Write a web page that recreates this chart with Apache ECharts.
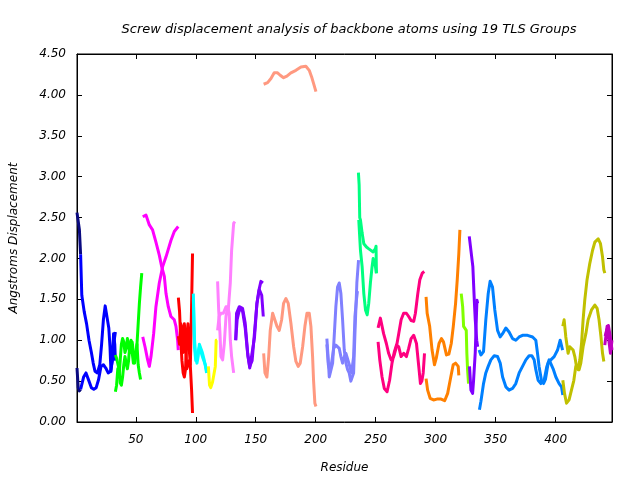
<!DOCTYPE html>
<html><head><meta charset="utf-8">
<script src="https://cdn.jsdelivr.net/npm/echarts@6/dist/echarts.min.js"></script>
<style>html,body{margin:0;padding:0;background:#fff}#c{width:640px;height:480px}</style>
</head><body><div id="c"></div>
<script>
const titleText = "Screw displacement analysis of backbone atoms using 19 TLS Groups";
const xName = "Residue";
const yName = "Angstroms Displacement";
const xTicks = [50,100,150,200,250,300,350,400];
const groupColors = ["#0a0a80","#0000ff","#00ff00","#ff00ff","#ff0000","#00ffff","#ffff00","#ff80ff","#8000ff","#ff9980","#8080ff","#00ff80","#ff0080","#ff8000","#80ff00","#8000ff","#0080ff","#c0c000","#c000c0"];

const g1a = [[1,2.56],[2,2.54],[3,2.35],[4,2.05]];
const g1b = [[1,0.66],[2,0.42],[3,0.38],[4,0.40]];
const g2a = [[4,2.05],[5,1.55],[7,1.35],[9,1.2],[11,1.0],[13,0.85],[14.5,0.72],[16,0.62],[18,0.60],[20,0.70],[21.5,0.95],[23,1.25],[24.5,1.42],[26,1.40],[27.5,1.15],[28.5,0.92],[29.3,0.62],[30.5,0.80],[31.5,1.08],[32.5,0.95],[33,0.75]];
const g2b = [[4,0.40],[5,0.42],[6.5,0.55],[8.5,0.60],[11,0.50],[13,0.42],[15,0.40],[17,0.42],[19,0.52],[21,0.68],[23,0.70],[25,0.66],[27,0.60],[29,0.62],[30.5,0.75],[32,1.0],[33,1.1]];
const g3a = [[33,0.37],[34,0.45],[35,0.65],[36,0.55],[37,0.75],[38,0.95],[39,1.02],[40,0.98],[41,0.85],[42,0.9],[43,1.02],[44,1.0],[45,0.85],[46,0.9],[47,0.98],[48,0.85],[49,0.72],[50,0.8],[51,0.95],[52,1.2],[53,1.45],[54,1.65],[55,1.82]];
const g3b = [[33,0.82],[34,0.78],[35,0.80],[36,0.65],[37,0.48],[38,0.45],[39,0.55],[40,0.7],[41,0.8],[42,0.72],[43,0.65],[44,0.75],[45,0.95],[46,1.0],[47,0.85],[48,0.72],[49,0.72],[50,0.85],[51,0.95],[52,0.7],[53,0.6],[54,0.52]];
const g4a = [[55.8,2.51],[58.5,2.53],[61.3,2.41],[64,2.35],[66.8,2.2],[69.6,2.04],[71.6,1.9],[73.8,1.78],[75.2,1.57],[77.1,1.41],[79.3,1.29],[82.1,1.25],[83.5,1.17],[84.9,1.0],[85.4,0.88]];
const g4b = [[55.8,1.04],[57.7,0.92],[59.9,0.76],[61.3,0.68],[62.7,0.80],[64.9,1.08],[66.8,1.41],[69.6,1.70],[72.4,1.90],[75.2,2.02],[79.3,2.22],[82.1,2.33],[85.4,2.39]];
const g5a = [[85.5,1.52],[86.5,1.35],[87.5,1.0],[88.5,0.75],[89.5,0.6],[90.5,0.55],[91.5,0.65],[92.5,1.05],[93.5,1.2],[94.5,0.9],[95.5,0.7],[96.5,1.4],[97.3,2.06]];
const g5b = [[85.5,1.05],[86.5,0.95],[87.5,1.2],[88.5,1.15],[89.5,0.85],[90.5,1.2],[91.5,1.0],[92.5,0.65],[93.5,0.7],[94.5,0.75],[95.5,0.68],[96.5,0.4],[97.3,0.11]];
const g6a = [[98,1.57],[98.5,1.25],[99,1.0],[100,0.8],[101,0.72],[102,0.8],[103,0.95],[104.5,0.95],[105.5,0.85],[107,0.76],[108.5,0.65],[109,0.60]];
const g6b = [[98,1.5],[99,0.9],[100,0.75],[101.5,0.76],[103,0.92],[104.5,0.9],[106,0.78],[108,0.7],[109,0.62]];
const g7a = [[110.5,0.68],[111.5,0.45],[112.5,0.42],[114,0.49],[115.5,0.5],[116.3,0.68],[117,1.0],[117.7,1.0]];
const g8a = [[118.2,1.72],[119.1,1.37],[120.2,1.08],[121,0.8],[122.4,0.76],[123.8,0.96],[125.2,1.29],[126.6,1.41],[127.9,1.33],[128.8,1.0],[129.9,0.8],[131.6,0.6]];
const g8b = [[118.2,1.12],[119.5,1.29],[121,1.33],[123,1.33],[125.2,1.41],[127,1.35],[128.8,1.7],[129.9,2.1],[131.6,2.43],[132.7,2.45]];
const g9a = [[133.3,1.0],[134,1.33],[136.3,1.41],[139,1.39],[141.2,1.21],[143.3,0.84],[145,0.66],[146.5,0.66],[149,1.04],[151,1.45],[152.5,1.60],[154.3,1.72],[156,1.70]];
const g9b = [[133.3,1.0],[134.5,1.25],[136.5,1.38],[139,1.36],[141.2,1.15],[143.5,0.8],[145,0.68],[147,0.75],[149,1.1],[151,1.45],[153,1.62],[155,1.55],[156.3,1.29]];
const g10a = [[156.6,4.13],[159.9,4.15],[162.7,4.20],[165.4,4.27],[168.2,4.27],[170.4,4.24],[173.2,4.21],[176,4.23],[179.3,4.27],[183.5,4.30],[187.7,4.34],[191.8,4.35],[194.6,4.30],[196.6,4.22],[198.2,4.14],[200.2,4.04]];
const g10b = [[156.6,0.84],[157.7,0.6],[159.3,0.55],[160.8,0.8],[162.1,1.12],[164.1,1.33],[165.4,1.32],[167.7,1.17],[169.6,1.12],[171.6,1.25],[173.2,1.45],[175.2,1.51],[177.1,1.45],[179.3,1.21],[181.6,0.92],[183.5,0.74],[185.4,0.68],[187.1,0.72],[189.1,0.92],[191,1.17],[192.7,1.33],[194.6,1.33],[196,1.17],[197.4,0.8],[198.2,0.51],[199.3,0.23],[200.2,0.19]];
const g11a = [[209.3,1.02],[210.3,0.8],[211.3,0.55],[212.7,0.55],[214.1,0.72],[215.4,1.04],[216.8,1.41],[218.2,1.65],[219.6,1.70],[221,1.57],[222.4,1.25],[223.8,0.88],[225.2,0.72],[226.6,0.64],[227.9,0.6],[229.3,0.5],[230,0.49],[231.6,0.6],[232.7,1.08],[234.3,1.70],[235.7,1.98]];
const g11b = [[209.3,0.95],[210.5,0.7],[212,0.62],[213.5,0.75],[215,0.9],[216.8,0.94],[218.2,0.96],[219.6,0.9],[221,0.8],[222.4,0.72],[223.8,0.8],[225.2,0.84],[226.6,0.82],[228,0.7],[229.9,0.6],[231.6,0.8],[232.7,1.29],[234,1.5],[234.8,1.6]];
const g12a = [[235.6,3.05],[236.2,2.9],[236.7,2.5],[237.3,2.47],[238.7,2.31],[240.1,2.18],[242.3,2.14],[244,2.12],[245.6,2.10],[247.9,2.08],[249.8,2.12],[250.3,2.15],[250.6,1.82]];
const g12b = [[235.9,2.47],[237.3,2.10],[238.7,1.9],[240.1,1.57],[241.5,1.37],[242.9,1.31],[244.2,1.45],[245.6,1.70],[247,1.9],[247.9,2.0],[248.8,1.97],[249.8,1.90],[250.6,1.82]];
const g13a = [[252,1.15],[253.9,1.27],[255,1.26],[256.6,1.08],[258.9,0.96],[260.8,0.84],[262.8,0.76],[265,0.80],[267.3,0.92],[269.2,1.08],[271.2,1.25],[273.3,1.33],[275.6,1.33],[277.5,1.29],[279.5,1.24],[281.7,1.23],[283.1,1.33],[285.1,1.57],[286.8,1.74],[288.8,1.82],[290.5,1.84]];
const g13b = [[252,0.98],[253.4,0.76],[255.3,0.55],[257.2,0.41],[259.5,0.37],[261.6,0.51],[263.6,0.72],[265.6,0.86],[267.3,0.94],[269.2,0.92],[271.2,0.80],[273.3,0.84],[275.6,0.8],[277.5,0.9],[279.5,1.02],[281.7,1.06],[284,0.96],[285.9,0.68],[287.3,0.47],[288.5,0.5],[289.6,0.6],[290.7,0.84]];
const g14a = [[292,1.53],[292.9,1.33],[295,1.17],[297,0.88],[299,0.70],[300.5,0.78],[302.8,0.96],[304.8,1.02],[306.5,0.98],[309,0.82],[311,0.83],[313,0.96],[314.7,1.17],[316.6,1.45],[318,1.74],[319.3,2.06],[320.2,2.35]];
const g14b = [[292,0.53],[293.3,0.39],[295.4,0.29],[298.2,0.27],[301,0.28],[304.5,0.28],[307.5,0.26],[310,0.35],[312.6,0.55],[314.6,0.70],[316.6,0.72],[318.8,0.68],[319.3,0.57]];
const g15a = [[321.3,1.57],[322.5,1.41],[323.3,1.17],[325.5,1.12],[326,0.84],[326.6,0.64],[327.4,0.47]];
const g16a = [[328,2.27],[329.5,2.25],[331,1.9],[332.2,1.49],[333,1.25],[334.2,1.0],[335,0.92]];
const g16b = [[328.2,0.68],[329.4,0.39],[330.8,0.35],[331.6,0.51],[333,0.85],[334.4,1.49],[335,1.45]];
const g17a = [[336.2,0.88],[337.7,0.82],[339.9,0.86],[341.8,1.25],[343.8,1.57],[345.4,1.72],[347.4,1.65],[349.3,1.37],[351.6,1.12],[353.8,1.04],[355.8,1.08],[358.5,1.15],[361.2,1.10],[364.1,1.02],[366.8,1.0],[369.6,1.04],[372.4,1.06],[376.6,1.06],[380.8,1.04],[383.5,1.0],[384.9,0.84],[386.2,0.68],[388.2,0.51],[389.9,0.47],[391.5,0.52],[393.8,0.72],[396,0.76],[398.8,0.80],[401.6,0.88],[403.8,1.0],[404.9,1.02],[405.8,0.88]];
const g17b = [[336.5,0.15],[337.7,0.25],[339.9,0.47],[341.8,0.60],[343.8,0.68],[346,0.76],[348.8,0.81],[351.6,0.80],[353.8,0.72],[355.8,0.55],[358.5,0.43],[361.2,0.39],[364.1,0.41],[366.8,0.47],[369.6,0.60],[372.4,0.68],[375.2,0.76],[377.9,0.81],[380.2,0.81],[382.1,0.76],[383.5,0.64],[385.4,0.51],[387.7,0.47],[390.4,0.51],[392.7,0.68],[394.6,0.76],[396,0.75],[398.2,0.64],[400.2,0.55],[402.9,0.47],[404.9,0.43],[406,0.33]];
const g18a = [[406,1.17],[407.1,1.25],[408.5,1.04],[410.4,0.84],[411.8,0.92],[413.2,0.93],[414.6,0.88],[416,0.80],[417.4,0.68],[418.8,0.64],[420.2,0.76],[421.6,0.96],[422.9,1.25],[424.3,1.49],[426.2,1.74],[428.5,1.94],[430.8,2.10],[432.7,2.20],[435.5,2.24],[437.4,2.18],[439.1,2.02],[440.2,1.86],[441,1.82]];
const g18b = [[406,0.51],[407.4,0.35],[409.1,0.23],[411.2,0.27],[413.2,0.39],[415.2,0.51],[416.8,0.68],[418,0.70],[419.6,0.64],[421,0.72],[422.9,0.92],[425.2,1.08],[427.1,1.25],[429.9,1.37],[432.7,1.43],[434.6,1.39],[436.2,1.25],[437.8,1.04],[439.1,0.84],[440.2,0.74]];
const g19a = [[441,0.94],[442.9,1.17],[444,1.15],[445.7,0.84],[447,1.0]];
const g19b = [[441.3,1.05],[442.5,1.12],[444,1.18],[445.5,1.05],[447,0.88]];

const lines = [
  [g1a,0],[g1b,0],[g2a,1],[g2b,1],[g3a,2],[g3b,2],[g4a,3],[g4b,3],[g5a,4],[g5b,4],
  [g6a,5],[g6b,5],[g7a,6],[g8a,7],[g8b,7],[g9a,8],[g9b,8],[g10a,9],[g10b,9],
  [g11a,10],[g11b,10],[g12a,11],[g12b,11],[g13a,12],[g13b,12],[g14a,13],[g14b,13],
  [g15a,14],[g16a,15],[g16b,15],[g17a,16],[g17b,16],[g18a,17],[g18b,17],[g19a,18],[g19b,18]
];

const FONT = "DejaVu Sans";
const txt = {fontFamily: FONT, fontStyle: 'italic', fontSize: 12, color: '#000'};
const chart = echarts.init(document.getElementById('c'), null, {renderer: 'canvas'});
chart.setOption({
  animation: false,
  backgroundColor: '#fff',
  title: {text: titleText, left: 344, top: 18, textAlign: 'center',
    textStyle: Object.assign({}, txt, {fontWeight: 'normal', fontSize: 13})},
  grid: {left: 76, right: 28, top: 54, bottom: 58, show: true, borderColor: '#000', borderWidth: 1, backgroundColor: 'transparent'},
  xAxis: [
    {type: 'value', min: 1, max: 447, position: 'bottom',
     name: xName, nameLocation: 'middle', nameGap: 40, nameTextStyle: txt,
     axisLine: {show: true, onZero: false, lineStyle: {color: '#000'}},
     axisTick: {show: true, inside: true, length: 5, customValues: xTicks, lineStyle: {color: '#000'}},
     axisLabel: {show: true, customValues: xTicks, margin: 12, ...txt},
     splitLine: {show: false}},
    {type: 'value', min: 1, max: 447, position: 'top',
     axisLine: {show: true, onZero: false, lineStyle: {color: '#000'}},
     axisTick: {show: true, inside: true, length: 5, customValues: xTicks, lineStyle: {color: '#000'}},
     axisLabel: {show: false}, splitLine: {show: false}}
  ],
  yAxis: [
    {type: 'value', min: 0, max: 4.5, interval: 0.5, position: 'left',
     name: yName, nameLocation: 'middle', nameGap: 57, nameRotate: 90, nameTextStyle: txt,
     axisLine: {show: true, onZero: false, lineStyle: {color: '#000'}},
     axisTick: {show: true, inside: true, length: 5, lineStyle: {color: '#000'}},
     axisLabel: {show: true, margin: 11, formatter: v => v.toFixed(2), ...txt},
     splitLine: {show: false}},
    {type: 'value', min: 0, max: 4.5, interval: 0.5, position: 'right',
     axisLine: {show: true, onZero: false, lineStyle: {color: '#000'}},
     axisTick: {show: true, inside: true, length: 5, lineStyle: {color: '#000'}},
     axisLabel: {show: false}, splitLine: {show: false}}
  ],
  series: lines.map(([d, gi]) => ({
    type: 'line', data: d, showSymbol: false, symbol: 'none', smooth: false,
    xAxisIndex: 0, yAxisIndex: 0, clip: true,
    lineStyle: {color: groupColors[gi], width: 3, join: 'round'},
    emphasis: {disabled: true}
  }))
});
</script></body></html>
